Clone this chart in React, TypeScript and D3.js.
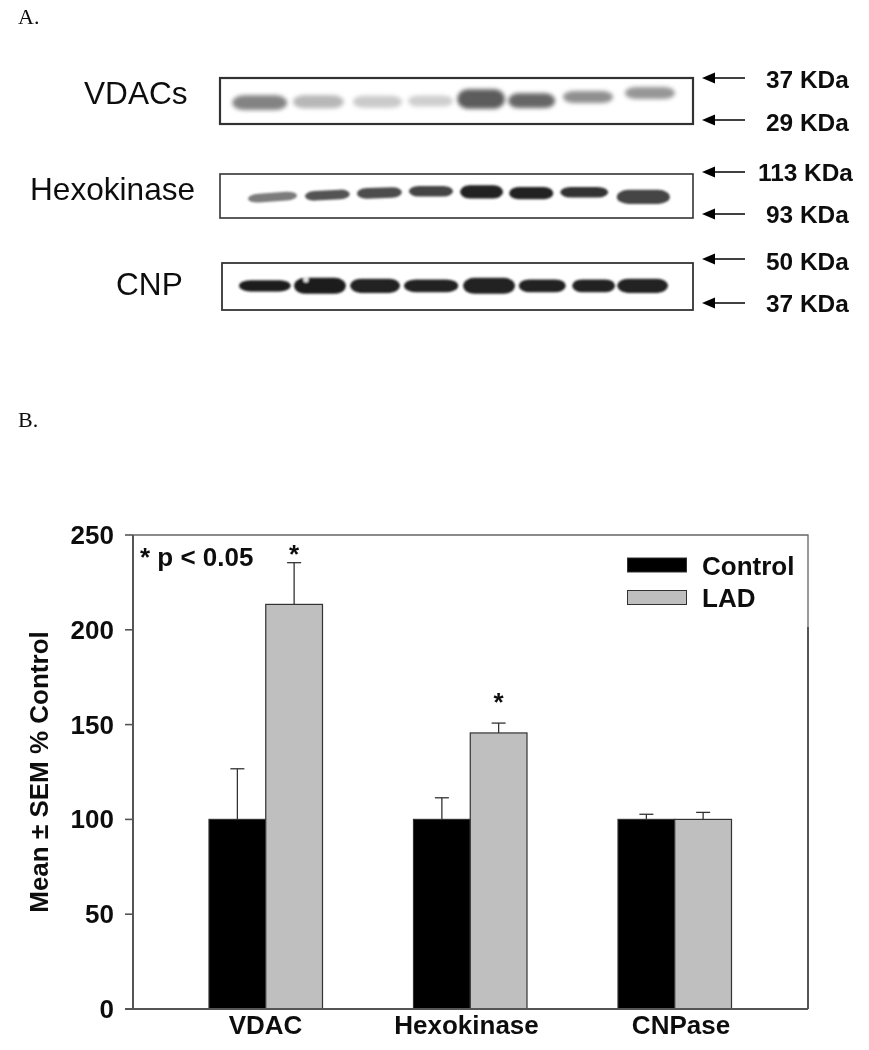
import React from "react";
import * as d3 from "d3";

// ---------- Data ----------
const categories = ["VDAC", "Hexokinase", "CNPase"];
const seriesNames = ["Control", "LAD"];
const controlMeans = [100, 100, 100];
const ladMeans = [213.4, 145.6, 100];
const controlErrTop = [126.7, 111.4, 102.7];
const ladErrTop = [235.4, 150.8, 103.7];
const starLevels = [235.4, 157.2, null];
const yTicks = [0, 50, 100, 150, 200, 250];

// Blot lanes, in % of blot width / height; density 0 (clear) to 1 (black)
const blotNames = ["VDACs", "Hexokinase", "CNP"];
const vdacCentre = [8.4, 20.8, 33.3, 44.5, 55.2, 65.9, 77.8, 90.9];
const vdacSpan = [11.6, 10.8, 10.4, 9.5, 10.1, 9.9, 10.6, 10.6];
const vdacMigration = [53.7, 51.5, 51.5, 50, 45.6, 49.3, 41.3, 32.6];
const vdacThickness = [32, 28, 26, 24, 42, 32, 26, 26];
const vdacDensity = [0.52, 0.3, 0.22, 0.2, 0.68, 0.64, 0.47, 0.44];
const hexCentre = [11.1, 22.7, 33.7, 44.6, 55.3, 65.8, 77, 89.5];
const hexSpan = [10.4, 9.5, 9.5, 9.3, 9.1, 9.3, 10.1, 11.2];
const hexMigration = [52.6, 48, 43, 39, 40.6, 43.6, 41.3, 52];
const hexThickness = [20, 22, 24, 24, 30, 28, 24, 32];
const hexDensity = [0.55, 0.72, 0.74, 0.78, 0.92, 0.92, 0.86, 0.78];
const hexTilt = [-4, -3, -2, 0, 0, 0, 0, 0];
const cnpCentre = [9.1, 20.8, 32.5, 44.4, 56.7, 68, 78.9, 89.3];
const cnpSpan = [11, 11, 10.6, 11.5, 11, 10, 9.1, 10.8];
const cnpMigration = [48.6, 48.6, 48.6, 48.6, 48.6, 48.6, 48.6, 48.6];
const cnpThickness = [24, 34, 30, 27, 34, 27, 27, 30];
const cnpDensity = [0.95, 0.95, 0.93, 0.93, 0.93, 0.93, 0.93, 0.93];
const markers = [
  ["37 KDa", "29 KDa"],
  ["113 KDa", "93 KDa"],
  ["50 KDa", "37 KDa"],
];

const SANS = "'Liberation Sans', Arial, sans-serif";
const SERIF = "'Liberation Serif', 'Times New Roman', serif";

const blotBoxes = [
  { x0: 220, x1: 693, y0: 78, y1: 124, sw: 2.2, label: 103.5, lx: 84, markerY: [78, 120], textY: [88, 131], blur: "bandBlurSoft" },
  { x0: 220, x1: 693, y0: 174, y1: 218, sw: 1.6, label: 199.5, lx: 30, markerY: [172, 214], textY: [181, 223], blur: "bandBlur" },
  { x0: 222, x1: 693, y0: 263, y1: 310, sw: 1.8, label: 295, lx: 116, markerY: [259, 303], textY: [270, 312], blur: "bandBlur" },
];
const blotBands = [
  { c: vdacCentre, s: vdacSpan, m: vdacMigration, t: vdacThickness, d: vdacDensity, tilt: vdacCentre.map(() => 0) },
  { c: hexCentre, s: hexSpan, m: hexMigration, t: hexThickness, d: hexDensity, tilt: hexTilt },
  { c: cnpCentre, s: cnpSpan, m: cnpMigration, t: cnpThickness, d: cnpDensity, tilt: cnpCentre.map(() => 0) },
];

const densityToGrey = d3.scaleLinear<string>().domain([0, 1]).range(["#ffffff", "#101010"]);

function Blot({ i }: { i: number }) {
  const box = blotBoxes[i];
  const b = blotBands[i];
  const x = d3.scaleLinear().domain([0, 100]).range([box.x0, box.x1]);
  const y = d3.scaleLinear().domain([0, 100]).range([box.y0, box.y1]);
  const w = (v: number) => x(v) - x(0);
  const h = (v: number) => y(v) - y(0);
  return (
    <g>
      <text x={box.lx} y={box.label} fontFamily={SANS} fontSize={31.6} fill="#111">{blotNames[i]}</text>
      <g filter={`url(#${box.blur})`}>
        {b.c.map((c, j) => (
          <rect
            key={j}
            x={x(c) - w(b.s[j]) / 2}
            y={y(b.m[j]) - h(b.t[j]) / 2}
            width={w(b.s[j])}
            height={h(b.t[j])}
            rx={w(b.s[j]) * 0.22}
            ry={h(b.t[j]) / 2}
            fill={densityToGrey(b.d[j])}
            transform={`rotate(${b.tilt[j]} ${x(c)} ${y(b.m[j])})`}
          />
        ))}
        {i === 2 && <circle cx={x(cnpCentre[1]) - 14} cy={y(cnpMigration[1]) - 6} r={2.6} fill="#e8e8e8" />}
      </g>
      <rect x={box.x0} y={box.y0} width={box.x1 - box.x0} height={box.y1 - box.y0} fill="none" stroke="#333" strokeWidth={box.sw} />
      {markers[i].map((m, j) => (
        <g key={m + j}>
          <path d={`M702 ${box.markerY[j]}L715 ${box.markerY[j] - 5.5}L715 ${box.markerY[j] + 5.5}Z`} fill="#000" />
          <line x1={712} x2={745} y1={box.markerY[j]} y2={box.markerY[j]} stroke="#000" strokeWidth={1.6} />
          <text x={m.startsWith("113") ? 758 : 766} y={box.textY[j]} fontFamily={SANS} fontWeight="bold" fontSize={24.4} fill="#111">{m}</text>
        </g>
      ))}
    </g>
  );
}

function BarChart() {
  const left = 133, right = 808, top = 535, bottom = 1009;
  const y = d3.scaleLinear().domain([0, 250]).range([bottom, top]);
  const groupCentres = [266, 470.5, 675];
  const xGroup = d3.scaleOrdinal<string, number>().domain(categories).range(groupCentres);
  const xSeries = d3.scaleBand().domain(seriesNames).range([-57, 56.5]).padding(0);
  const bw = xSeries.bandwidth();
  const capHalf = 7;
  const fontProps = { fontFamily: SANS, fontWeight: "bold", fontSize: 26, fill: "#111" };
  const series = [
    { name: "Control", means: controlMeans, err: controlErrTop, fill: "#000000" },
    { name: "LAD", means: ladMeans, err: ladErrTop, fill: "#bfbfbf" },
  ];
  return (
    <g>
      <path d={`M${left} ${top}H${right}V627`} fill="none" stroke="#666" strokeWidth={1.3} />
      <line x1={right} x2={right} y1={627} y2={bottom} stroke="#444" strokeWidth={1.8} />
      {series.map((s) =>
        categories.map((c, i) => {
          const bx = xGroup(c) + (xSeries(s.name) as number);
          const cx = bx + bw / 2;
          return (
            <g key={s.name + c}>
              <line x1={cx} x2={cx} y1={y(s.err[i])} y2={y(s.means[i])} stroke="#333" strokeWidth={1.3} />
              <line x1={cx - capHalf} x2={cx + capHalf} y1={y(s.err[i])} y2={y(s.err[i])} stroke="#333" strokeWidth={1.3} />
              <rect x={bx} y={y(s.means[i])} width={bw} height={bottom - y(s.means[i])} fill={s.fill} stroke="#333" strokeWidth={1.2} />
            </g>
          );
        })
      )}
      {starLevels.map((lv, i) =>
        lv !== null ? (
          <text key={i} x={xGroup(categories[i]) + (xSeries("LAD") as number) + bw / 2} y={y(lv)} textAnchor="middle" {...fontProps}>*</text>
        ) : null
      )}
      <text x={140} y={566} {...fontProps}>* p &lt; 0.05</text>
      <line x1={left} x2={left} y1={top} y2={bottom} stroke="#555" strokeWidth={2} />
      <line x1={125} x2={right} y1={bottom} y2={bottom} stroke="#555" strokeWidth={2} />
      {yTicks.map((t) => (
        <g key={t}>
          <line x1={125} x2={left} y1={y(t)} y2={y(t)} stroke="#555" strokeWidth={1.6} />
          <text x={114} y={y(t) + 9} textAnchor="end" {...fontProps}>{t}</text>
        </g>
      ))}
      {categories.map((c) => (
        <text key={c} x={c === "VDAC" ? 265.5 : c === "Hexokinase" ? 466.5 : 681} y={1034} textAnchor="middle" {...fontProps}>{c}</text>
      ))}
      <text transform="translate(48 772) rotate(-90)" textAnchor="middle" {...fontProps}>Mean ± SEM % Control</text>
      {series.map((s, i) => (
        <g key={s.name}>
          <rect x={627.5} y={558 + i * 32.5} width={59} height={14} fill={s.fill} stroke="#333" strokeWidth={1} />
          <text x={702} y={575 + i * 32} {...fontProps}>{s.name}</text>
        </g>
      ))}
    </g>
  );
}

export default function App() {
  return (
    <svg width={869} height={1050} style={{ position: "absolute", left: 0, top: 0, background: "#fff" }}>
      <defs>
        <filter id="bandBlur" x="-5%" y="-50%" width="110%" height="200%">
          <feGaussianBlur stdDeviation="1.3" />
        </filter>
        <filter id="bandBlurSoft" x="-5%" y="-50%" width="110%" height="200%">
          <feGaussianBlur stdDeviation="2.2" />
        </filter>
        <filter id="scanSoft" x="0" y="0" width="100%" height="100%" filterUnits="userSpaceOnUse" primitiveUnits="userSpaceOnUse">
          <feGaussianBlur stdDeviation="0.4" />
        </filter>
      </defs>
      <g filter="url(#scanSoft)">
        <rect width={869} height={1050} fill="#fff" />
        <text x={18} y={24} fontFamily={SERIF} fontSize={22} fill="#111">A.</text>
        <text x={18} y={427} fontFamily={SERIF} fontSize={22} fill="#111">B.</text>
        {blotNames.map((_, i) => <Blot key={i} i={i} />)}
        <BarChart />
      </g>
    </svg>
  );
}
